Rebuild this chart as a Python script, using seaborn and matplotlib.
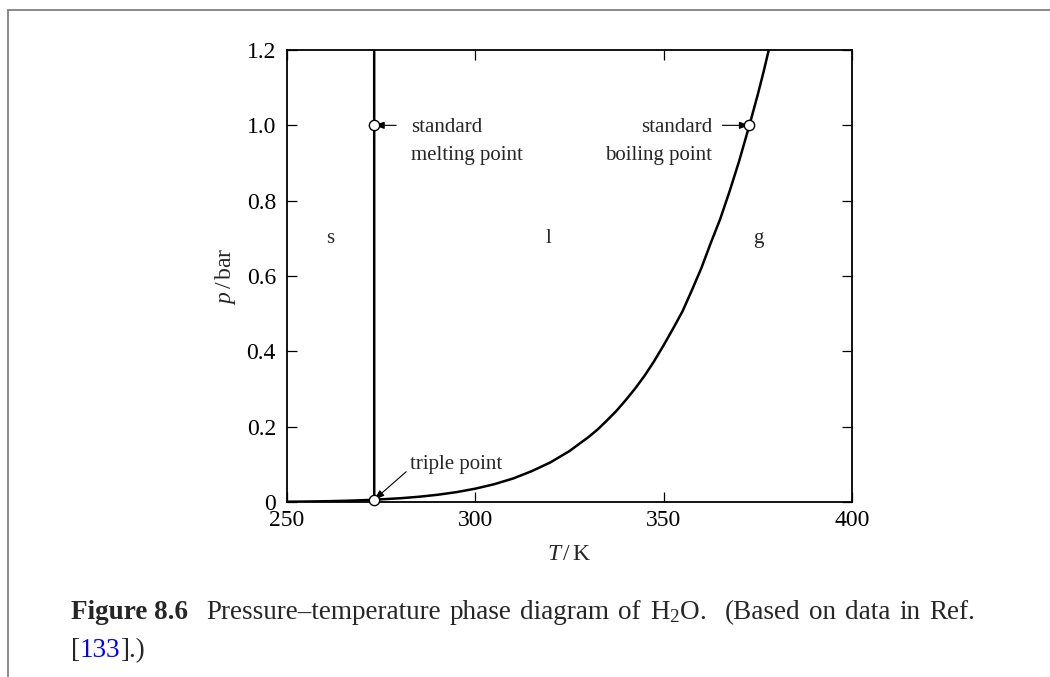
import matplotlib
matplotlib.use("Agg")
import matplotlib.pyplot as plt
import seaborn as sns
import pandas as pd
from matplotlib.lines import Line2D

# ---- data ----
T_sub = [250, 255, 260, 265, 270, 273.16]
p_sub = [0.00076, 0.00124, 0.00196, 0.00306, 0.00470, 0.00611]

T_vap = [273.16, 280, 285, 290, 295, 300, 305, 310, 315, 320, 325, 330, 332.5,
         335, 337.5, 340, 342.5, 345, 347.5, 350, 352.5, 355, 357.5, 360,
         362.5, 365, 367.5, 370, 372.76, 375, 376.5, 377.9]
p_vap = [0.00611, 0.00992, 0.0139, 0.0192, 0.0262, 0.0354, 0.0472, 0.0623,
         0.0820, 0.1055, 0.1353, 0.1721, 0.1928, 0.2171, 0.2424, 0.2713,
         0.3022, 0.3362, 0.3744, 0.4163, 0.4604, 0.5062, 0.5625, 0.6209,
         0.6875, 0.7510, 0.8248, 0.9040, 1.0, 1.0823, 1.1412, 1.2]

T_fus = [273.16, 273.15]
p_fus = [0.00611, 1.2]

pt_names = ["triple point", "standard melting point", "standard boiling point"]
T_pts = [273.16, 273.15, 372.76]
p_pts = [0.00611, 1.0, 1.0]

phase_labels = ["s", "l", "g"]
phase_T = [261.5, 319.5, 375.0]
phase_p = [0.70, 0.70, 0.70]

x_ticks = [250, 300, 350, 400]
y_ticks = [0, 0.2, 0.4, 0.6, 0.8, 1.0, 1.2]
y_ticklabels = ["0", "0.2", "0.4", "0.6", "0.8", "1.0", "1.2"]

caption_words = ["Pressure–temperature", "phase", "diagram", "of", "H$_2$O.",
                 "(Based", "on", "data", "in", "Ref."]

# ---- style ----
sns.set_theme(style="ticks")
plt.rcParams['font.family'] = ['Liberation Serif', 'DejaVu Serif']
plt.rcParams['mathtext.fontset'] = 'custom'
plt.rcParams['mathtext.rm'] = 'Liberation Serif'
plt.rcParams['mathtext.it'] = 'Liberation Serif:italic'
plt.rcParams['mathtext.bf'] = 'Liberation Serif:bold'

FS_TICK = 17
FS_LAB = 17
FS_ANN = 15
FS_CAP = 19.5
W, H = 1050, 677
fig = plt.figure(figsize=(10.5, 6.77), dpi=100)
ax = fig.add_axes([287 / W, 175 / H, 565 / W, 452 / H])

sub_df = pd.DataFrame({"T": T_sub, "p": p_sub})
vap_df = pd.DataFrame({"T": T_vap, "p": p_vap})
fus_df = pd.DataFrame({"T": T_fus, "p": p_fus})
for d in (sub_df, vap_df, fus_df):
    sns.lineplot(data=d, x="T", y="p", ax=ax, color="black", lw=1.8,
                 estimator=None, sort=False, zorder=3)

pts_df = pd.DataFrame({"T": T_pts, "p": p_pts, "name": pt_names})
sns.scatterplot(data=pts_df, x="T", y="p", ax=ax, s=55, facecolor="white",
                edgecolor="black", linewidth=1.0, zorder=5, clip_on=False)

ax.set_xlim(250, 400)
ax.set_ylim(0, 1.2)
ax.set_xticks(x_ticks)
ax.set_xticklabels([str(v) for v in x_ticks])
ax.set_yticks(y_ticks)
ax.set_yticklabels(y_ticklabels)
ax.tick_params(direction="in", length=7.5, width=0.9, top=True, right=True,
               labelsize=FS_TICK, colors="black")
ax.tick_params(axis="x", pad=6)
ax.tick_params(axis="y", pad=8)
for s in ax.spines.values():
    s.set_visible(True)
    s.set_linewidth(1.3)
    s.set_color("black")
ax.set_xlabel("$T\\,$/$\\,$K", fontsize=FS_LAB, labelpad=9)
ax.set_ylabel("$p\\,$/$\\,$bar", fontsize=FS_LAB, labelpad=6)

# phase labels
for lab, t, p in zip(phase_labels, phase_T, phase_p):
    ax.text(t, p, lab, fontsize=FS_ANN, ha="center", va="center")

# annotations
arrow_kw = dict(arrowstyle="-|>,head_length=0.5,head_width=0.18", color="black",
                lw=0.8, shrinkA=0, shrinkB=0)
# melting point
ax.annotate("", xy=(T_pts[1], p_pts[1]), xytext=(22, 0), textcoords="offset pixels",
            xycoords="data", arrowprops=arrow_kw)
ax.annotate("standard\nmelting point", xy=(T_pts[1], p_pts[1]), xytext=(37, 7),
            textcoords="offset pixels", ha="left", va="top", fontsize=FS_ANN,
            linespacing=1.6)
# boiling point
ax.annotate("", xy=(T_pts[2], p_pts[2]), xytext=(-27, 0), textcoords="offset pixels",
            arrowprops=arrow_kw)
ax.annotate("standard\nboiling point", xy=(T_pts[2], p_pts[2]), xytext=(-37, 7),
            textcoords="offset pixels", ha="right", va="top", fontsize=FS_ANN,
            linespacing=1.6)
# triple point
ax.annotate("", xy=(T_pts[0], p_pts[0]), xytext=(32, 28), textcoords="offset pixels",
            arrowprops=arrow_kw)
ax.annotate("triple point", xy=(T_pts[0], p_pts[0]), xytext=(36, 35),
            textcoords="offset pixels", ha="left", va="center", fontsize=FS_ANN)

# page frame lines
fig.add_artist(Line2D([8 / W, 1.0], [1 - 9.5 / H, 1 - 9.5 / H], color="#808080",
                      lw=1.3, transform=fig.transFigure))
fig.add_artist(Line2D([8 / W, 8 / W], [0, 1 - 9.5 / H], color="#808080",
                      lw=1.3, transform=fig.transFigure))

# caption
fig.canvas.draw()
renderer = fig.canvas.get_renderer()


def width_of(txt, **kw):
    t = fig.text(0, 0, txt, fontsize=FS_CAP, **kw)
    w = t.get_window_extent(renderer).width
    t.remove()
    return w


# first line: justified between x=71 and x=975
x_left, x_right, base1 = 71, 975, 619
items = [("Figure 8.6", dict(fontweight="bold"))] + [(w, {}) for w in caption_words]
gap_weights = [2.0] + [1.0] * 4 + [2.0] + [1.0] * 4   # double spaces after 8.6 and O.
widths = [width_of(t, **kw) for t, kw in items]
space = width_of("a a") - width_of("aa")
extra = (x_right - x_left) - sum(widths)
unit = extra / sum(gap_weights)
x = x_left
for i, ((t, kw), w) in enumerate(zip(items, widths)):
    fig.text(x / W, 1 - base1 / H, t, fontsize=FS_CAP, va="baseline", ha="left", **kw)
    x += w
    if i < len(gap_weights):
        x += unit * gap_weights[i]

# second line
x = 71
for t, kw in [("[", {}), ("133", dict(color="#0000ff")), ("].)", {})]:
    txt = fig.text(x / W, 1 - 657 / H, t, fontsize=FS_CAP, va="baseline", ha="left", **kw)
    x = txt.get_window_extent(renderer).x1

fig.savefig("out.png", dpi=100)
